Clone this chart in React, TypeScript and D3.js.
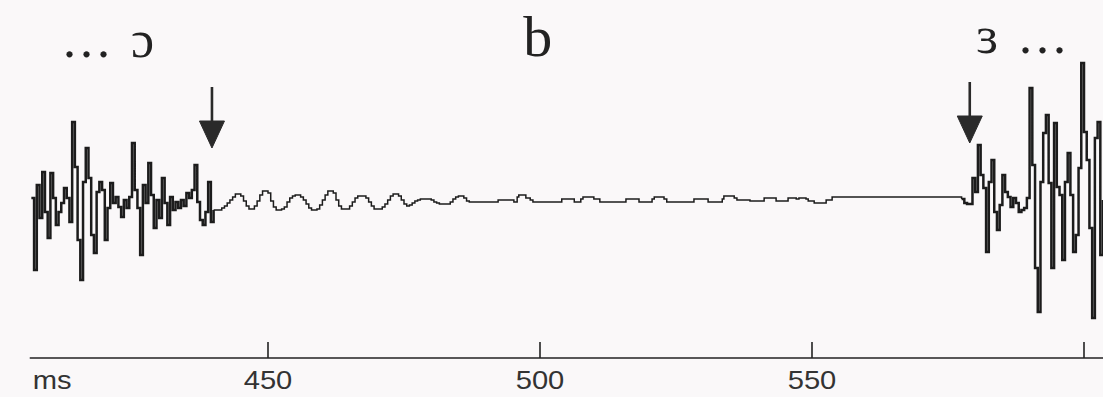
import React from "react";
import * as d3 from "d3";

// ---- data (time in ms, amplitude in arbitrary units, positive = up) ----
const SAMPLE_STEP_MS = 0.5;

// fricative / aperiodic part of preceding vowel "... ɔ"
const LEFT_START_MS = 406.5;
const leftNoise = [
  2, -70, 15, -18, 28, -12, -38, 27, 2, -25, -12, -3, 12, 2, -22, 78, 33, -40,
  -80, 18, 52, 22, -35, -53, 8, 18, 10, -40, -8, 17, -3, 3, -7, -17, 0, -8, 3,
  57, 10, -8, -55, 15, -3, 37, 5, -28, 0, -18, 22, -3, -25, 3, -10, -2, -8, 0,
  -6, 7, 2, 10, 35, -2, -20, -25, -12, 18, -22,
];

// decaying periodic voicing after the first arrow
const VOICE_START_MS = 440.0;
const voicing = [
  -10, -10, -10, -8, -6, -3, 0, 3, 6, 6, 4, -1, -6, -9, -9, -6, -1, 5, 9, 9, 7,
  -1, -7, -10, -10, -9, -7, -2, 2, 4, 5, 5, 3, 0, -4, -8, -10, -10, -9, -5, 0,
  5, 9, 9, 7, 0, -6, -9, -9, -9, -6, -2, 2, 4, 4, 4, 2, -2, -6, -9, -9, -9, -7,
  -4, 0, 4, 6, 6, 4, 0, -4, -6, -5, -3, -1, 0, 1, 1, 1, 1, 0, -2, -3, -4, -4,
  -4, -4, -2, 1, 3, 4, 4, 2, -1, -2,
];

// near-silent closure of "b": [ms, amplitude] change points
const closure: [number, number][] = [
  [487.5, -2], [492.3, 0], [495.2, -2], [495.8, 3], [496.1, 5], [497.4, 2],
  [498.2, 0], [498.7, -2], [504.0, 1], [506.3, -2], [507.5, 1], [507.9, 3],
  [509.9, 1], [511.0, -2], [515.8, 1], [518.2, -2], [520.6, 1], [521.0, 3],
  [522.8, 1], [523.3, -2], [528.3, 1], [530.9, -2], [533.5, 1], [533.8, 4],
  [535.7, 2], [536.2, 0], [538.6, -1], [541.2, 2], [543.4, -1], [545.6, 2],
  [547.1, 1], [547.6, 2], [548.9, 1], [549.3, -1], [550.4, -3], [552.6, 0],
  [553.7, 3],
];

// release burst / following vowel "ɜ ..."
const RIGHT_START_MS = 577.5;
const rightNoise = [
  1, -3, -4, -4, 22, 8, 55, 25, 12, -52, 18, 40, -12, -30, -5, 25, 8, 3, -7, 2,
  -3, -12, -10, -8, 2, 112, 35, -68, -112, 18, 67, 85, 17, -68, 77, 13, 5, -60,
  18, 47, 5, -52, -35, 32, 137, 68, 40, -28, -118, 62, 78, -55, 0,
];

// axis
const AXIS_START_MS = 406.2;
const AXIS_END_MS = 610;
const tickValues = [450, 500, 550, 600];
const tickLabels = ["450", "500", "550", ""];
const unitLabel = "ms";

// segment labels
const segLabels = [
  { text: "... ɔ", ms: 412.3, anchor: "start" },
  { text: "b", ms: 499.6, anchor: "middle" },
  { text: "ɜ ...", ms: 580.2, anchor: "start" },
];

// arrows marking onsets: time, tip amplitude, tail amplitude
const arrows = [
  { ms: 439.7, tip: 52, tail: 113 },
  { ms: 579.0, tip: 57, tail: 118 },
];

// ---- layout ----
const W = 1103;
const H = 397;
const AXIS_Y = 358;

const x = d3.scaleLinear().domain([450, 600]).range([268, 1084]);
const y = d3.scaleLinear().domain([-150, 150]).range([350, 50]);

function series(start: number, vals: number[]): [number, number][] {
  return vals.map((v, i) => [start + i * SAMPLE_STEP_MS, v]);
}

const leftPts = series(LEFT_START_MS, leftNoise);
const voicePts = series(VOICE_START_MS, voicing);
const rightPts = series(RIGHT_START_MS, rightNoise);

const line = d3
  .line<[number, number]>()
  .x((d) => x(d[0]))
  .y((d) => y(d[1]))
  .curve(d3.curveStepAfter);

const leftPath = line([...leftPts, voicePts[0]]) || "";
const midPath = line([...voicePts, ...closure, rightPts[0]]) || "";
const rightPath = line(rightPts) || "";

export default function App() {
  const ink = "#1c1c1c";
  return (
    <svg
      width={W}
      height={H}
      style={{ position: "absolute", left: 0, top: 0 }}
      xmlns="http://www.w3.org/2000/svg"
    >
      <rect width={W} height={H} fill="#faf8f9" />

      {/* waveform */}
      <path d={midPath} fill="none" stroke={ink} strokeWidth={1.5} />
      <path d={leftPath} fill="none" stroke={ink} strokeWidth={2.5} strokeLinejoin="miter" />
      <path d={rightPath} fill="none" stroke={ink} strokeWidth={2.5} strokeLinejoin="miter" />

      {/* arrows */}
      {arrows.map((a, i) => {
        const ax = x(a.ms);
        const tipY = y(a.tip);
        const headLen = 27;
        const headHalf = 12.5;
        return (
          <g key={i} fill="#2a2a2a" stroke="#2a2a2a">
            <line x1={ax} x2={ax} y1={y(a.tail)} y2={tipY - headLen + 2} strokeWidth={2.6} />
            <path
              d={`M${ax - headHalf},${tipY - headLen} L${ax + headHalf},${tipY - headLen} L${ax},${tipY} Z`}
              strokeWidth={1}
            />
          </g>
        );
      })}

      {/* segment labels */}
      {segLabels.map((l, i) => (
        <text
          key={i}
          x={x(l.ms)}
          y={i === 1 ? 56 : i === 0 ? 57 : 53}
          textAnchor={l.anchor as any}
          fontFamily="'Liberation Serif', 'DejaVu Serif', serif"
          fontSize={i === 1 ? 58 : 52}
          letterSpacing={i === 1 ? 0 : 4}
          fill="#222"
        >
          {l.text}
        </text>
      ))}

      {/* time axis */}
      <line
        x1={x(AXIS_START_MS)}
        x2={x(AXIS_END_MS)}
        y1={AXIS_Y}
        y2={AXIS_Y}
        stroke="#222"
        strokeWidth={1.6}
      />
      {tickValues.map((t, i) => (
        <g key={t}>
          <line x1={x(t)} x2={x(t)} y1={AXIS_Y - 16} y2={AXIS_Y} stroke="#222" strokeWidth={1.6} />
          {tickLabels[i] && (
            <text
              transform={`translate(${x(t)},389) scale(1.1,1)`}
              textAnchor="middle"
              fontFamily="'Liberation Sans', Arial, sans-serif"
              fontSize={26.5}
              fill="#333"
            >
              {tickLabels[i]}
            </text>
          )}
        </g>
      ))}
      <text
        transform={`translate(${x(AXIS_START_MS) + 3},389) scale(1.1,1)`}
        fontFamily="'Liberation Sans', Arial, sans-serif"
        fontSize={26.5}
        fill="#333"
      >
        {unitLabel}
      </text>
    </svg>
  );
}
